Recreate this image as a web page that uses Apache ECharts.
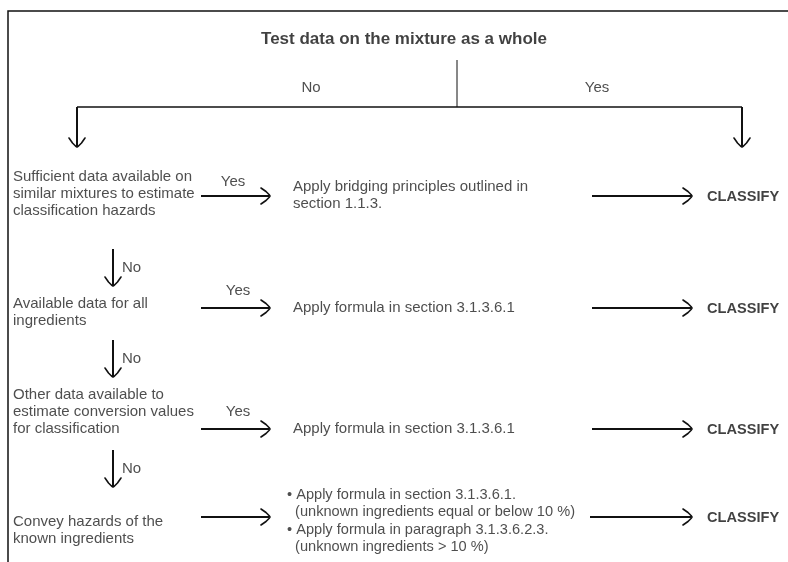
<!DOCTYPE html>
<html><head><meta charset="utf-8">
<script src="https://cdn.jsdelivr.net/npm/echarts@6/dist/echarts.min.js"></script>
<style>html,body{margin:0;padding:0;background:#fff}#c{width:788px;height:562px}</style>
</head><body><div id="c"></div>
<script>
// ---- content ----
const title = 'Test data on the mixture as a whole';
const branchLabels = ['No', 'Yes'];
const questions = [
  'Sufficient data available on\nsimilar mixtures to estimate\nclassification hazards',
  'Available data for all\ningredients',
  'Other data available to\nestimate conversion values\nfor classification',
  'Convey hazards of the\nknown ingredients'
];
const actions = [
  'Apply bridging principles outlined in\nsection 1.1.3.',
  'Apply formula in section 3.1.3.6.1',
  'Apply formula in section 3.1.3.6.1',
  '• Apply formula in section 3.1.3.6.1.\n  (unknown ingredients equal or below 10 %)\n• Apply formula in paragraph 3.1.3.6.2.3.\n  (unknown ingredients > 10 %)'
];
const yesLabels = ['Yes', 'Yes', 'Yes', ''];
const noLabels = ['No', 'No', 'No'];
const outcome = 'CLASSIFY';

// ---- layout (pixel space mapped through hidden axes) ----
const W = 788, H = 562;
const rowArrowY = [196, 308, 429, 517];
const questionY = [194, 312, 412, 530];
const yesY = [182, 291, 412, null];
const actionY = [195, 308, 429, 521];
const noArrow = [[249, 286], [340, 377], [450, 487]];
const qx = 13, ax = 293, cx = 707;

const lines = [];
const heads = [];
function hArrow(x1, x2, y) {
  lines.push({ coords: [[x1, y], [x2 - 1, y]] });
  heads.push({ coords: [[x2 - 9, y - 8], [x2 - 4, y - 4.5], [x2 - 1, y - 1.5], [x2, y], [x2 - 1, y + 1.5], [x2 - 4, y + 4.5], [x2 - 9, y + 8]] });
}
function vArrow(x, y1, y2) {
  lines.push({ coords: [[x, y1], [x, y2 - 1]] });
  heads.push({ coords: [[x - 8, y2 - 9], [x - 4.5, y2 - 4], [x - 1.5, y2 - 1], [x, y2], [x + 1.5, y2 - 1], [x + 4.5, y2 - 4], [x + 8, y2 - 9]] });
}
// frame
lines.push({ coords: [[8, H], [8, 11], [W, 11]], w: 1.5 });
// top branch
lines.push({ coords: [[457, 60], [457, 107]], w: 1 });
lines.push({ coords: [[77, 107], [742, 107]], w: 1.5 });
vArrow(77, 107, 147);
vArrow(742, 107, 147);
for (let i = 0; i < 4; i++) {
  hArrow(201, 270, rowArrowY[i]);
  hArrow(i === 3 ? 590 : 592, 692, rowArrowY[i]);
}
noArrow.forEach(a => vArrow(113, a[0], a[1]));

const texts = [];
function t(x, y, s, opt) { texts.push({ value: [x, y], name: s, label: Object.assign({}, opt || {}) }); }
t(404, 39, title, { fontWeight: 'bold', fontSize: 17, align: 'center', color: '#111' });
t(311, 88, branchLabels[0], { align: 'center' });
t(597, 88, branchLabels[1], { align: 'center' });
questions.forEach((q, i) => t(qx, questionY[i], q));
actions.forEach((a, i) => t(i === 3 ? 287 : ax, actionY[i], a, i === 3 ? { lineHeight: 17.3, fontSize: 14.6 } : {}));
yesLabels.forEach((y, i) => { if (y) t(i === 0 ? 233 : 238, yesY[i], y, { align: 'center' }); });
noLabels.forEach((n, i) => t(122, (noArrow[i][0] + noArrow[i][1]) / 2, n));
for (let i = 0; i < 4; i++) t(cx, rowArrowY[i] + 1, outcome, { fontWeight: 'bold', fontSize: 14.6, color: '#111' });

const chart = echarts.init(document.getElementById('c'), null, { renderer: 'canvas' });
chart.setOption({
  animation: false,
  backgroundColor: '#fff',
  grid: { left: 0, right: 0, top: 0, bottom: 0 },
  xAxis: { type: 'value', min: 0, max: W, show: false },
  yAxis: { type: 'value', min: 0, max: H, inverse: true, show: false },
  series: [
    {
      type: 'lines', coordinateSystem: 'cartesian2d', polyline: true, silent: true,
      data: lines.map(l => ({ coords: l.coords, lineStyle: { width: l.w || 2 } })),
      lineStyle: { color: '#111', width: 2, opacity: 1 }
    },
    {
      type: 'lines', coordinateSystem: 'cartesian2d', polyline: true, silent: true,
      data: heads,
      lineStyle: { color: '#111', width: 1.6, opacity: 1, join: 'round', cap: 'round' }
    },
    {
      type: 'scatter', symbolSize: 0, silent: true,
      data: texts,
      label: {
        show: true, position: [0, 0], formatter: p => p.name,
        color: '#222', fontFamily: 'Liberation Sans, Arial, sans-serif', fontSize: 15,
        lineHeight: 17, align: 'left', verticalAlign: 'middle'
      }
    }
  ]
});
</script></body></html>
